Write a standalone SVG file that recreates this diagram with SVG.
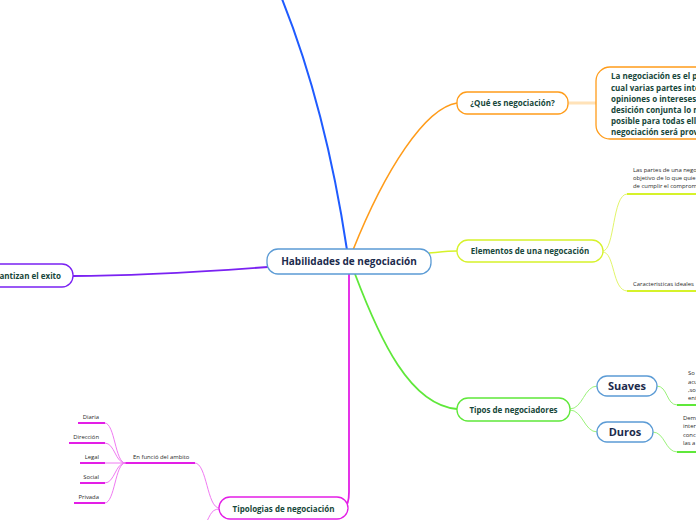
<svg xmlns="http://www.w3.org/2000/svg" width="696" height="520" viewBox="0 0 696 520">
<style>
.bg{fill:#ffffff}
.node{fill:#ffffff;stroke-width:1.3}
.t1{font-family:"Open Sans","Noto Sans",sans-serif;font-weight:bold;fill:#17473a;font-size:8px}
.tc{font-family:"Open Sans","Noto Sans",sans-serif;font-weight:bold;fill:#1c2b4d;font-size:10px}
.tb{font-family:"Open Sans","Noto Sans",sans-serif;font-weight:bold;fill:#1c2b4d;font-size:11px}
.ts{font-family:"Open Sans","Noto Sans",sans-serif;fill:#2a2a2a;font-size:5.9px}
.c{fill:none;stroke-linecap:round}
.u{fill:none;stroke-width:2}
</style>
<rect class="bg" x="0" y="0" width="696" height="520"/>
<g id="connectors">
  <path class="c" d="M347,250 C335,170 315,80 280,-6" stroke="#1f5bff" stroke-width="2"/>
  <path class="c" d="M353,250 C385,170 425,108 457,103" stroke="#ff9c1a" stroke-width="1.6"/>
  <path class="c" d="M568,103 L596,103" stroke="#ffe2b8" stroke-width="3"/>
  <path class="c" d="M429,253 C440,252 448,251 457,251" stroke="#d6f22a" stroke-width="1.5"/>
  <path class="c" d="M355,274 C380,340 410,405 457,409" stroke="#5fe83a" stroke-width="1.8"/>
  <path class="c" d="M349,274 L349,492 Q349,505 344,508" stroke="#e31ee6" stroke-width="1.8"/>
  <path class="c" d="M268,267 C200,272 120,276 73,276" stroke="#7a22f2" stroke-width="1.8"/>
  <path class="c" d="M603,251 C615,251 612,194 627,194" stroke="#e2f56a" stroke-width="1"/>
  <path class="c" d="M603,252 C615,252 612,291 627,291" stroke="#e2f56a" stroke-width="1"/>
  <path class="u" d="M627,194 L700,194" stroke="#d6f22a"/>
  <path class="u" d="M627,291 L700,291" stroke="#d6f22a"/>
  <path class="c" d="M570,409 C583,409 584,386 597,386" stroke="#9af27a" stroke-width="1"/>
  <path class="c" d="M570,410 C583,410 584,432 597,432" stroke="#9af27a" stroke-width="1"/>
  <path class="c" d="M657,386 C668,386 666,405 677,405" stroke="#9af27a" stroke-width="1"/>
  <path class="c" d="M653,432 C665,432 665,452 677,452" stroke="#9af27a" stroke-width="1"/>
  <path class="u" d="M677,405 L700,405" stroke="#5fe83a"/>
  <path class="u" d="M677,452 L700,452" stroke="#5fe83a"/>
  <path class="c" d="M219,508 C207,508 207,463 195,463" stroke="#f07af2" stroke-width="1"/>
  <path class="c" d="M219,509 C210,509 210,518 204,526" stroke="#f07af2" stroke-width="1"/>
  <path class="u" d="M195,463 L125,463" stroke="#e31ee6"/>
  <path class="c" d="M125,463 C115,463 115,423 105,423" stroke="#f07af2" stroke-width="1"/>
  <path class="c" d="M125,463 C115,463 115,443 105,443" stroke="#f07af2" stroke-width="1"/>
  <path class="c" d="M125,463 L105,463" stroke="#f07af2" stroke-width="1"/>
  <path class="c" d="M125,463 C115,463 115,483 105,483" stroke="#f07af2" stroke-width="1"/>
  <path class="c" d="M125,463 C115,463 115,503 105,503" stroke="#f07af2" stroke-width="1"/>
  <path class="u" d="M105,423 L78,423" stroke="#e31ee6"/>
  <path class="u" d="M105,443 L69,443" stroke="#e31ee6"/>
  <path class="u" d="M105,463 L80,463" stroke="#e31ee6"/>
  <path class="u" d="M105,483 L80,483" stroke="#e31ee6"/>
  <path class="u" d="M105,503 L74,503" stroke="#e31ee6"/>
</g>
<g id="center">
  <rect class="node" x="267" y="249" width="164" height="25" rx="11" stroke="#5b9bd5"/>
  <text class="tc" x="349" y="265" text-anchor="middle">Habilidades de negociación</text>
</g>
<g id="que-es">
  <rect class="node" x="457" y="92" width="111" height="22" rx="10" stroke="#ff9c1a"/>
  <text class="t1" x="512.5" y="106" text-anchor="middle">¿Qué es negociación?</text>
</g>
<g id="definicion">
  <rect class="node" x="596" y="67" width="140" height="72" rx="14" stroke="#ff9c1a"/>
  <text class="t1" x="611" y="79">La negociación es el p</text>
  <text class="t1" x="611" y="90.5">cual varias partes inte</text>
  <text class="t1" x="611" y="101.5">opiniones o intereses</text>
  <text class="t1" x="611" y="112.5">desición conjunta lo m</text>
  <text class="t1" x="611" y="123.5">posible para todas ell</text>
  <text class="t1" x="611" y="134.5">negociación será prov</text>
</g>
<g id="elementos">
  <rect class="node" x="457" y="240" width="146" height="22" rx="11" stroke="#d6f22a"/>
  <text class="t1" x="530" y="254" text-anchor="middle">Elementos de una negocación</text>
</g>
<g id="partes">
  <text class="ts" x="633" y="172">Las partes de una nego</text>
  <text class="ts" x="633" y="180">objetivo de lo que quie</text>
  <text class="ts" x="633" y="188">de cumplir el comprom</text>
</g>
<g id="caracteristicas">
  <text class="ts" x="633" y="286">Caracteristicas ideales</text>
</g>
<g id="tipos">
  <rect class="node" x="457" y="398" width="113" height="23" rx="11" stroke="#5fe83a"/>
  <text class="t1" x="513.5" y="412.5" text-anchor="middle">Tipos de negociadores</text>
</g>
<g id="suaves">
  <rect class="node" x="597" y="376" width="60" height="20" rx="10" stroke="#5b9bd5"/>
  <text class="tb" x="627" y="390" text-anchor="middle">Suaves</text>
</g>
<g id="suaves-desc">
  <text class="ts" x="688" y="375">So</text>
  <text class="ts" x="688" y="384">acu</text>
  <text class="ts" x="688" y="392">,so</text>
  <text class="ts" x="688" y="400">ent</text>
</g>
<g id="duros">
  <rect class="node" x="597" y="422" width="56" height="20" rx="10" stroke="#5b9bd5"/>
  <text class="tb" x="625" y="436" text-anchor="middle">Duros</text>
</g>
<g id="duros-desc">
  <text class="ts" x="683" y="420">Dem</text>
  <text class="ts" x="683" y="428">inter</text>
  <text class="ts" x="683" y="437">conc</text>
  <text class="ts" x="683" y="445">las a</text>
</g>
<g id="exito">
  <rect class="node" x="-60" y="264" width="133" height="23" rx="11" stroke="#7a22f2"/>
  <text class="t1" x="61" y="279" text-anchor="end">antizan el exito</text>
</g>
<g id="tipologias">
  <rect class="node" x="219" y="497" width="129" height="22" rx="11" stroke="#e31ee6"/>
  <text class="t1" x="283.5" y="511.5" text-anchor="middle">Tipologias de negociación</text>
</g>
<g id="ambito">
  <text class="ts" x="133" y="459">En funció del ambito</text>
</g>
<g id="diaria"><text class="ts" x="99" y="419" text-anchor="end">Diaria</text></g>
<g id="direccion"><text class="ts" x="99" y="439" text-anchor="end">Dirección</text></g>
<g id="legal"><text class="ts" x="99" y="459" text-anchor="end">Legal</text></g>
<g id="social"><text class="ts" x="99" y="479" text-anchor="end">Social</text></g>
<g id="privada"><text class="ts" x="99" y="499" text-anchor="end">Privada</text></g>
<g id="posicion"><text class="ts" x="24" y="524">Por posición</text></g>
</svg>
